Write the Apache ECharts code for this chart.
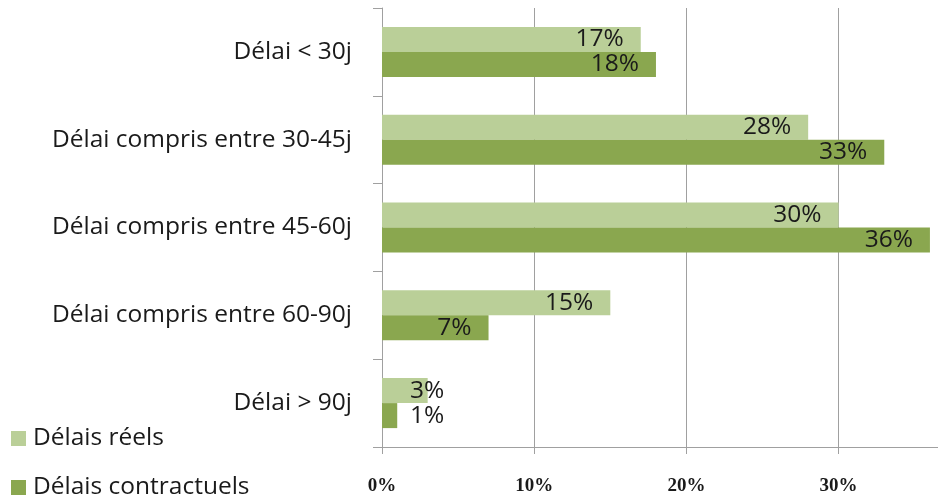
<!DOCTYPE html>
<html>
<head>
<meta charset="utf-8">
<script src="https://cdn.jsdelivr.net/npm/echarts@6/dist/echarts.min.js"></script>
<style>
html,body{margin:0;padding:0;background:#fff;}
#chart{width:938px;height:496px;}
</style>
</head>
<body>
<div id="chart"></div>
<script>
const categories = ["Délai < 30j", "Délai compris entre 30-45j", "Délai compris entre 45-60j", "Délai compris entre 60-90j", "Délai > 90j"];
const seriesNames = ["Délais réels", "Délais contractuels"];
const reels = [17, 28, 30, 15, 3];
const contractuels = [18, 33, 36, 7, 1];
const xTicks = [0, 10, 20, 30];

const FONT = 'Open Sans';
const FS = 24.5;
const chart = echarts.init(document.getElementById('chart'));

function makeData(vals) {
  return vals.map(v => v < 5
    ? { value: v, label: { position: 'insideLeft', offset: [11, 0] } }
    : v);
}

const labelCommon = {
  show: true,
  position: 'insideRight',
  distance: 17,
  formatter: p => p.value + '%',
  color: '#1a1a1a',
  fontFamily: FONT,
  fontSize: FS
};

function legendFor(name, top) {
  return {
    orient: 'vertical',
    left: 11,
    top: top,
    padding: 0,
    itemWidth: 15,
    itemHeight: 15,
    icon: 'rect',
    data: [name],
    textStyle: { fontFamily: FONT, fontSize: FS, color: '#1a1a1a', padding: [0, 0, 0, 2] }
  };
}

chart.setOption({
  animation: false,
  grid: { left: 382, top: 8, right: 0, bottom: 47, containLabel: false },
  legend: [legendFor(seriesNames[0], 426), legendFor(seriesNames[1], 475)],
  xAxis: {
    type: 'value',
    min: 0,
    max: 36.53,
    interval: 10,
    axisLine: { show: true, lineStyle: { color: '#a0a0a0', width: 1 } },
    axisTick: { show: true, length: 7, lineStyle: { color: '#a0a0a0' } },
    splitLine: { show: true, lineStyle: { color: '#a0a0a0', width: 1 } },
    axisLabel: {
      margin: 30,
      showMaxLabel: false,
      formatter: v => (xTicks.indexOf(v) >= 0 ? v + '%' : ''),
      fontFamily: 'Liberation Serif',
      fontWeight: 'bold',
      fontSize: 19,
      color: '#1a1a1a'
    }
  },
  yAxis: {
    type: 'category',
    inverse: true,
    data: categories,
    axisLine: { show: true, lineStyle: { color: '#a0a0a0', width: 1 } },
    axisTick: { show: true, length: 9, lineStyle: { color: '#a0a0a0' } },
    splitLine: { show: false },
    axisLabel: {
      margin: 30,
      fontFamily: FONT,
      fontSize: FS,
      color: '#1a1a1a'
    }
  },
  series: [
    {
      name: seriesNames[0],
      type: 'bar',
      data: makeData(reels),
      barWidth: 25,
      barGap: '0%',
      itemStyle: { color: '#bacf98' },
      label: labelCommon
    },
    {
      name: seriesNames[1],
      type: 'bar',
      data: makeData(contractuels),
      barWidth: 25,
      barGap: '0%',
      itemStyle: { color: '#8aa74f' },
      label: labelCommon
    }
  ]
});
</script>
</body>
</html>
